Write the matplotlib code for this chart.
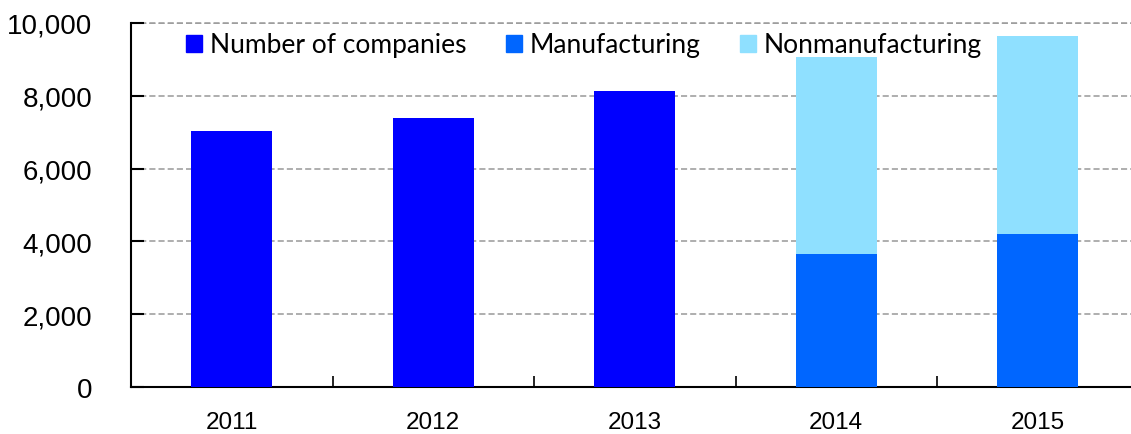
import matplotlib
matplotlib.use("Agg")
import matplotlib.pyplot as plt
from matplotlib.patches import Patch
from matplotlib.ticker import FuncFormatter, MultipleLocator
import numpy as np

years = ["2011", "2012", "2013", "2014", "2015"]
companies = [7030, 7390, 8130, 0, 0]
manufacturing = [0, 0, 0, 3650, 4200]
nonmanufacturing = [0, 0, 0, 5415, 5440]

c_comp = "#0000FF"
c_mfg = "#0066FF"
c_non = "#8FE0FF"

fig = plt.figure(figsize=(11.31, 4.35), dpi=100)
ax = fig.add_axes([131/1131, 1-388/435, 1007.5/1131, 364/435])

x = np.arange(len(years))
w = 0.4
ax.bar(x, companies, w, color=c_comp, zorder=3)
ax.bar(x, manufacturing, w, color=c_mfg, zorder=3)
ax.bar(x, nonmanufacturing, w, bottom=manufacturing, color=c_non, zorder=3)

ax.set_xlim(-0.5, len(years) - 0.5)
ax.set_ylim(0, 10000)
ax.yaxis.set_major_locator(MultipleLocator(2000))
ax.yaxis.set_major_formatter(FuncFormatter(lambda v, p: f"{int(v):,}"))
ax.set_xticks(x)
ax.set_xticklabels(years, family="Liberation Sans", fontsize=17.5)
ax.set_xticks(np.arange(-0.5, len(years), 1.0), minor=True)
ax.tick_params(axis="x", which="major", length=0, pad=17)
ax.tick_params(axis="x", which="minor", direction="in", length=8, width=1.2)
ax.tick_params(axis="y", direction="in", length=9, width=1.5, pad=28,
               labelsize=20)
for lab in ax.get_yticklabels():
    lab.set_family("Liberation Sans")

ax.yaxis.grid(True, color="#999999", linestyle=(0, (4, 2)), linewidth=1.1, zorder=0)
ax.spines["top"].set_visible(False)
ax.spines["right"].set_visible(False)
ax.spines["left"].set_linewidth(1.5)
ax.spines["bottom"].set_linewidth(1.5)
ax.axhline(10000, color="#999999", linestyle=(0, (4, 2)), linewidth=1.1, zorder=0, clip_on=False)

handles = [Patch(color=c_comp, label="Number of companies"),
           Patch(color=c_mfg, label="Manufacturing"),
           Patch(color=c_non, label="Nonmanufacturing")]
fig.legend(handles=handles, loc="center", bbox_to_anchor=(584/1131, 1-46/435),
           ncol=3, frameon=False, handlelength=0.6, handleheight=0.6,
           handletextpad=0.3, columnspacing=1.5,
           prop={"family": "Lato", "size": 19})

fig.savefig("out.png", dpi=100)
